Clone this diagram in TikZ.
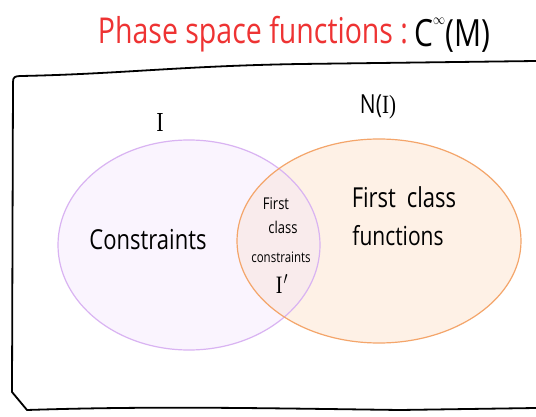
\documentclass[tikz,border=0pt]{standalone}
\usepackage{fontspec}
\setmainfont{Open Sans}
\newfontfamily\serifI{Liberation Serif}
\definecolor{purpline}{HTML}{D9B3F2}
\definecolor{purpfill}{HTML}{FAF4FE}
\definecolor{orgline}{HTML}{F4A56A}
\definecolor{orgfill}{HTML}{FEF1E6}
\definecolor{midfill}{HTML}{F9EBEC}
\definecolor{titlered}{HTML}{EE3333}
\tikzset{
  hand/.style={font=\fontsize{#1}{#1}\selectfont, yscale=1.25, transform shape, inner sep=0pt, text=black},
  hand/.default=21,
}
\begin{document}
\begin{tikzpicture}[x=1pt,y=-1pt]
\useasboundingbox (0,0) rectangle (536,417);
\fill[white] (0,0) rectangle (536,417);
% frame
\draw[line width=1.8pt, line join=round]
  (13,82) .. controls (13,77) and (15,76) .. (21,76)
  .. controls (120,74) and (180,66) .. (300,64)
  -- (536,61);
\draw[line width=1.8pt, line join=round]
  (13,82) -- (12,392) -- (27,410)
  .. controls (150,406) and (250,408) .. (400,410)
  -- (536,408);
% ellipses
\fill[purpfill] (189,245) ellipse [x radius=131, y radius=105];
\fill[orgfill] (379,241) ellipse [x radius=142, y radius=102];
\begin{scope}
  \clip (189,245) ellipse [x radius=131, y radius=105];
  \fill[midfill] (379,241) ellipse [x radius=142, y radius=102];
\end{scope}
\draw[purpline, line width=1.2pt] (189,245) ellipse [x radius=131, y radius=105];
\draw[orgline, line width=1.2pt] (379,241) ellipse [x radius=142, y radius=102];
% title
\node[hand=28.5, text=titlered, anchor=center] (title) at (253,34) {Phase space functions :};
\node[hand=30, anchor=west] (cinf) at (414,35) {C\raisebox{0.6em}{\fontsize{13}{13}\selectfont$\infty$}(M)};
% labels
\node[hand=22] (lI) at (160,122) {\serifI I};
\node[hand=21] (lNI) at (378,107) {N(\serifI I)};
\node[hand=22] (cons) at (148,240) {Constraints};
\node[hand=22] (fc1) at (404,197) {First\hspace{0.5em}class};
\node[hand=21] (fc2) at (398,236) {functions};
\node[hand=13] (m1) at (276,204) {First};
\node[hand=13] (m2) at (283,227) {class};
\node[hand=11.5] (m3) at (281,257) {constraints};
\node[hand=20] (m4) at (282,284) {\serifI I\kern0.05em$'$};
\end{tikzpicture}
\end{document}
